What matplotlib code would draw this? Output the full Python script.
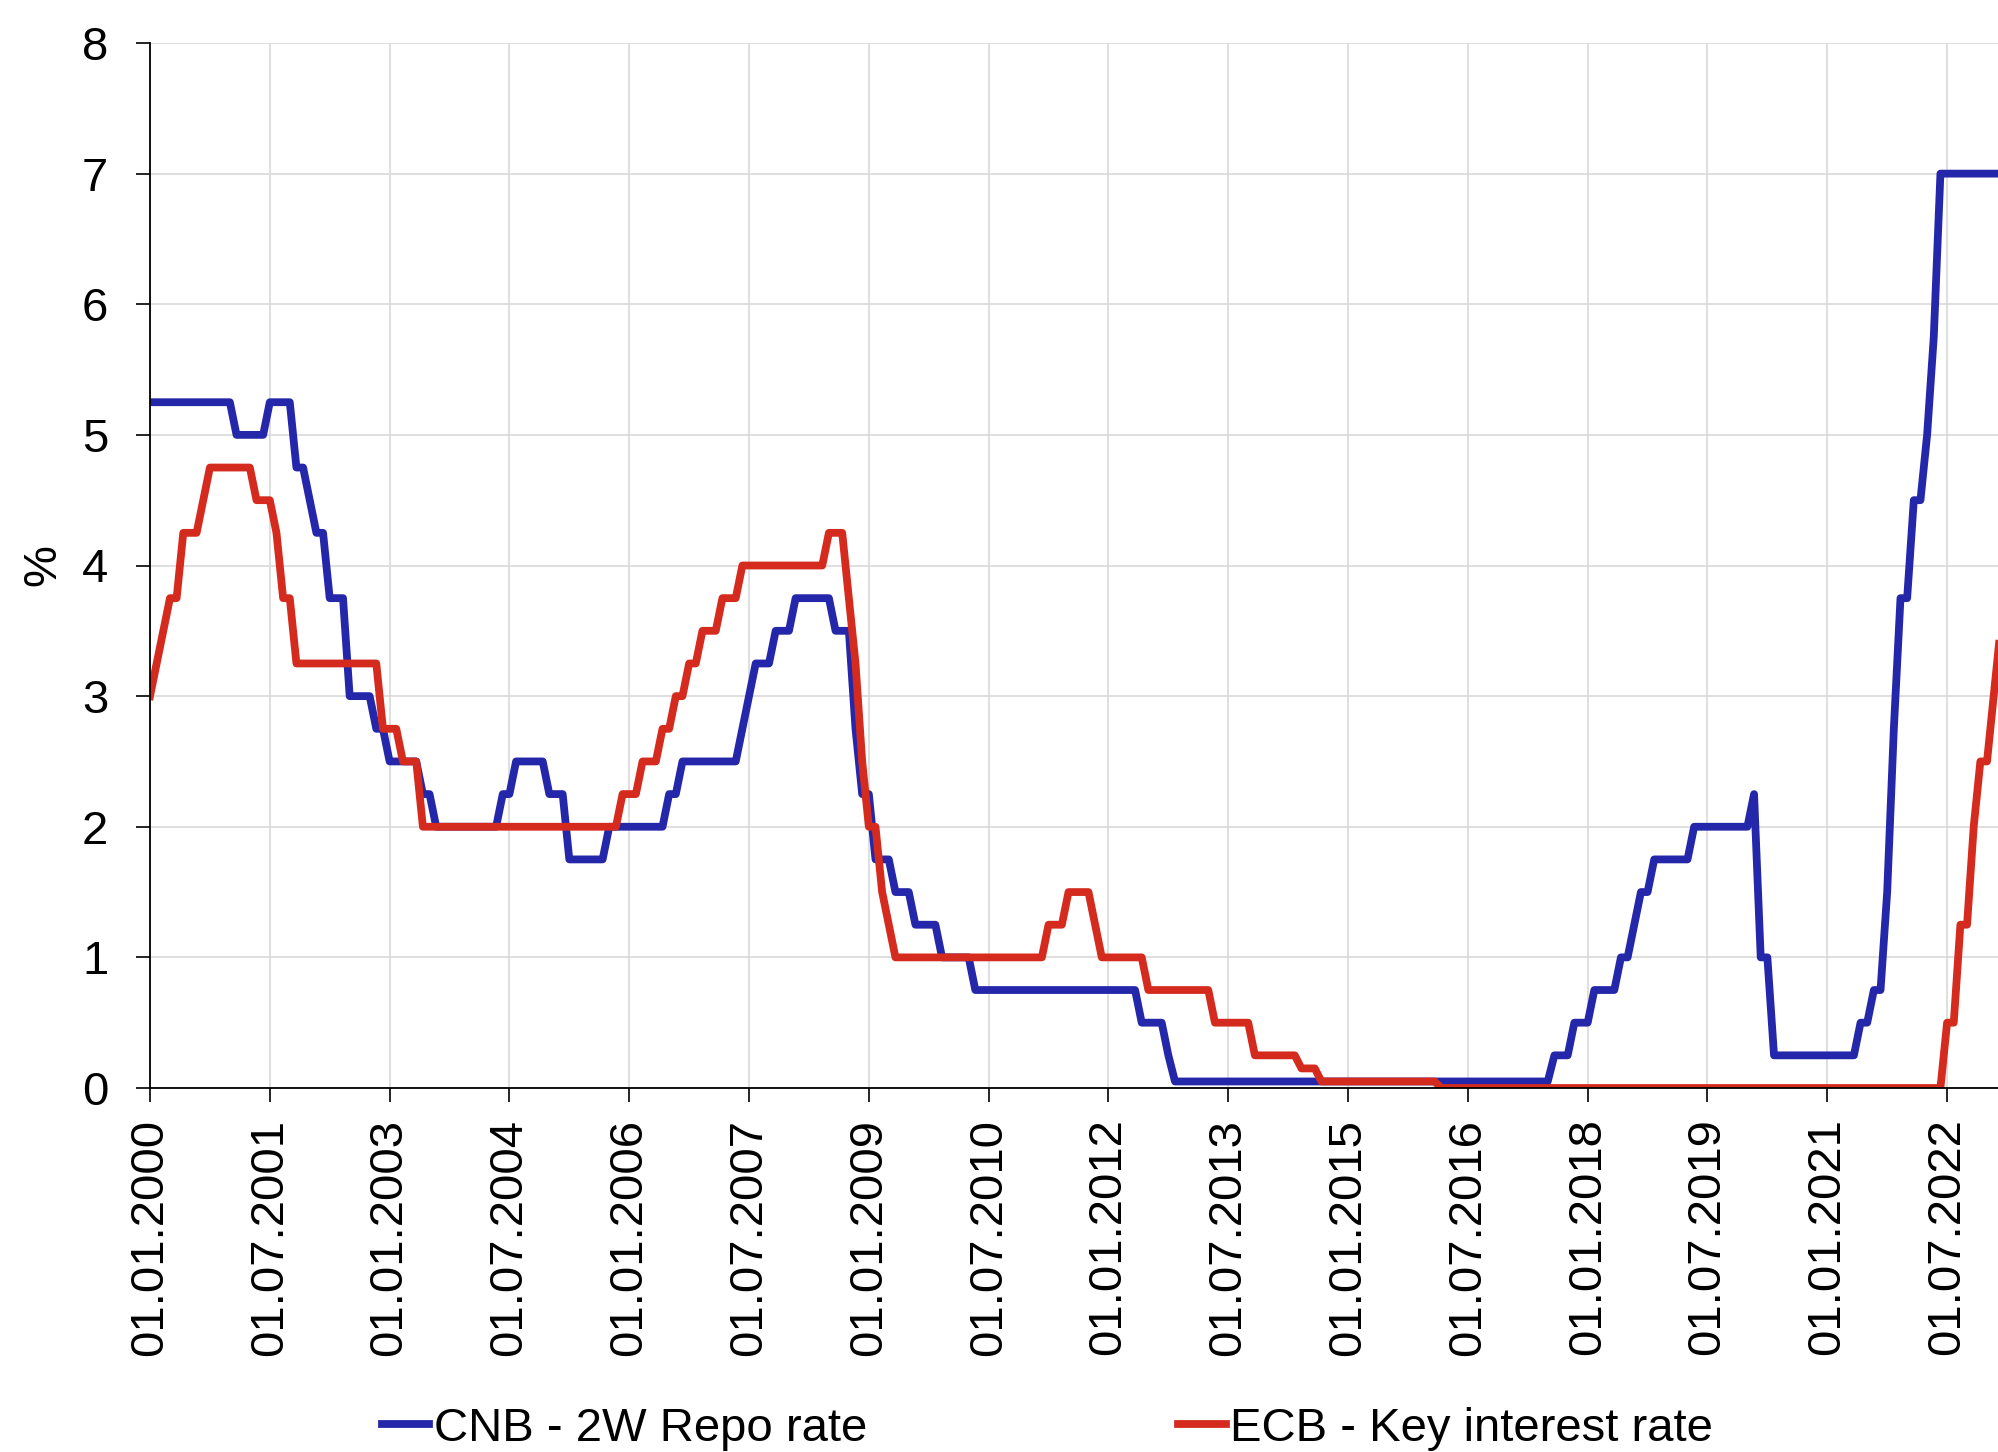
import matplotlib
matplotlib.use('Agg')
import matplotlib.pyplot as plt

# month-end rates, one row per year, starting 01.01.2000
cnb_rate = [
    5.25, 5.25, 5.25, 5.25, 5.25, 5.25, 5.25, 5.25, 5.25, 5.25, 5.25, 5.25,  # 2000
    5.25, 5.00, 5.00, 5.00, 5.00, 5.00, 5.25, 5.25, 5.25, 5.25, 4.75, 4.75,  # 2001
    4.50, 4.25, 4.25, 3.75, 3.75, 3.75, 3.00, 3.00, 3.00, 3.00, 2.75, 2.75,  # 2002
    2.50, 2.50, 2.50, 2.50, 2.50, 2.25, 2.25, 2.00, 2.00, 2.00, 2.00, 2.00,  # 2003
    2.00, 2.00, 2.00, 2.00, 2.00, 2.25, 2.25, 2.50, 2.50, 2.50, 2.50, 2.50,  # 2004
    2.25, 2.25, 2.25, 1.75, 1.75, 1.75, 1.75, 1.75, 1.75, 2.00, 2.00, 2.00,  # 2005
    2.00, 2.00, 2.00, 2.00, 2.00, 2.00, 2.25, 2.25, 2.50, 2.50, 2.50, 2.50,  # 2006
    2.50, 2.50, 2.50, 2.50, 2.50, 2.75, 3.00, 3.25, 3.25, 3.25, 3.50, 3.50,  # 2007
    3.50, 3.75, 3.75, 3.75, 3.75, 3.75, 3.75, 3.50, 3.50, 3.50, 2.75, 2.25,  # 2008
    2.25, 1.75, 1.75, 1.75, 1.50, 1.50, 1.50, 1.25, 1.25, 1.25, 1.25, 1.00,  # 2009
    1.00, 1.00, 1.00, 1.00, 0.75, 0.75, 0.75, 0.75, 0.75, 0.75, 0.75, 0.75,  # 2010
    0.75, 0.75, 0.75, 0.75, 0.75, 0.75, 0.75, 0.75, 0.75, 0.75, 0.75, 0.75,  # 2011
    0.75, 0.75, 0.75, 0.75, 0.75, 0.50, 0.50, 0.50, 0.50, 0.25, 0.05, 0.05,  # 2012
    0.05, 0.05, 0.05, 0.05, 0.05, 0.05, 0.05, 0.05, 0.05, 0.05, 0.05, 0.05,  # 2013
    0.05, 0.05, 0.05, 0.05, 0.05, 0.05, 0.05, 0.05, 0.05, 0.05, 0.05, 0.05,  # 2014
    0.05, 0.05, 0.05, 0.05, 0.05, 0.05, 0.05, 0.05, 0.05, 0.05, 0.05, 0.05,  # 2015
    0.05, 0.05, 0.05, 0.05, 0.05, 0.05, 0.05, 0.05, 0.05, 0.05, 0.05, 0.05,  # 2016
    0.05, 0.05, 0.05, 0.05, 0.05, 0.05, 0.05, 0.25, 0.25, 0.25, 0.50, 0.50,  # 2017
    0.50, 0.75, 0.75, 0.75, 0.75, 1.00, 1.00, 1.25, 1.50, 1.50, 1.75, 1.75,  # 2018
    1.75, 1.75, 1.75, 1.75, 2.00, 2.00, 2.00, 2.00, 2.00, 2.00, 2.00, 2.00,  # 2019
    2.00, 2.25, 1.00, 1.00, 0.25, 0.25, 0.25, 0.25, 0.25, 0.25, 0.25, 0.25,  # 2020
    0.25, 0.25, 0.25, 0.25, 0.25, 0.50, 0.50, 0.75, 0.75, 1.50, 2.75, 3.75,  # 2021
    3.75, 4.50, 4.50, 5.00, 5.75, 7.00, 7.00, 7.00, 7.00, 7.00, 7.00, 7.00,  # 2022
    7.00, 7.00, 7.00,                                                        # 2023
]

ecb_rate = [
    3.00, 3.25, 3.50, 3.75, 3.75, 4.25, 4.25, 4.25, 4.50, 4.75, 4.75, 4.75,  # 2000
    4.75, 4.75, 4.75, 4.75, 4.50, 4.50, 4.50, 4.25, 3.75, 3.75, 3.25, 3.25,  # 2001
    3.25, 3.25, 3.25, 3.25, 3.25, 3.25, 3.25, 3.25, 3.25, 3.25, 3.25, 2.75,  # 2002
    2.75, 2.75, 2.50, 2.50, 2.50, 2.00, 2.00, 2.00, 2.00, 2.00, 2.00, 2.00,  # 2003
    2.00, 2.00, 2.00, 2.00, 2.00, 2.00, 2.00, 2.00, 2.00, 2.00, 2.00, 2.00,  # 2004
    2.00, 2.00, 2.00, 2.00, 2.00, 2.00, 2.00, 2.00, 2.00, 2.00, 2.00, 2.25,  # 2005
    2.25, 2.25, 2.50, 2.50, 2.50, 2.75, 2.75, 3.00, 3.00, 3.25, 3.25, 3.50,  # 2006
    3.50, 3.50, 3.75, 3.75, 3.75, 4.00, 4.00, 4.00, 4.00, 4.00, 4.00, 4.00,  # 2007
    4.00, 4.00, 4.00, 4.00, 4.00, 4.00, 4.25, 4.25, 4.25, 3.75, 3.25, 2.50,  # 2008
    2.00, 2.00, 1.50, 1.25, 1.00, 1.00, 1.00, 1.00, 1.00, 1.00, 1.00, 1.00,  # 2009
    1.00, 1.00, 1.00, 1.00, 1.00, 1.00, 1.00, 1.00, 1.00, 1.00, 1.00, 1.00,  # 2010
    1.00, 1.00, 1.00, 1.25, 1.25, 1.25, 1.50, 1.50, 1.50, 1.50, 1.25, 1.00,  # 2011
    1.00, 1.00, 1.00, 1.00, 1.00, 1.00, 0.75, 0.75, 0.75, 0.75, 0.75, 0.75,  # 2012
    0.75, 0.75, 0.75, 0.75, 0.50, 0.50, 0.50, 0.50, 0.50, 0.50, 0.25, 0.25,  # 2013
    0.25, 0.25, 0.25, 0.25, 0.25, 0.15, 0.15, 0.15, 0.05, 0.05, 0.05, 0.05,  # 2014
    0.05, 0.05, 0.05, 0.05, 0.05, 0.05, 0.05, 0.05, 0.05, 0.05, 0.05, 0.05,  # 2015
    0.05, 0.05, 0.00, 0.00, 0.00, 0.00, 0.00, 0.00, 0.00, 0.00, 0.00, 0.00,  # 2016
    0.00, 0.00, 0.00, 0.00, 0.00, 0.00, 0.00, 0.00, 0.00, 0.00, 0.00, 0.00,  # 2017
    0.00, 0.00, 0.00, 0.00, 0.00, 0.00, 0.00, 0.00, 0.00, 0.00, 0.00, 0.00,  # 2018
    0.00, 0.00, 0.00, 0.00, 0.00, 0.00, 0.00, 0.00, 0.00, 0.00, 0.00, 0.00,  # 2019
    0.00, 0.00, 0.00, 0.00, 0.00, 0.00, 0.00, 0.00, 0.00, 0.00, 0.00, 0.00,  # 2020
    0.00, 0.00, 0.00, 0.00, 0.00, 0.00, 0.00, 0.00, 0.00, 0.00, 0.00, 0.00,  # 2021
    0.00, 0.00, 0.00, 0.00, 0.00, 0.00, 0.50, 0.50, 1.25, 1.25, 2.00, 2.50,  # 2022
    2.50, 3.00, 3.50,                                                        # 2023
]

tick_labels = ['01.01.2000', '01.07.2001', '01.01.2003', '01.07.2004',
               '01.01.2006', '01.07.2007', '01.01.2009', '01.07.2010',
               '01.01.2012', '01.07.2013', '01.01.2015', '01.07.2016',
               '01.01.2018', '01.07.2019', '01.01.2021', '01.07.2022']

plt.rcParams['font.family'] = ['Liberation Sans', 'DejaVu Sans']

fig = plt.figure(figsize=(19.99, 14.52), dpi=100)
ax = fig.add_axes([150 / 1999, 364 / 1452, 1849 / 1999, 1045 / 1452])

months = list(range(len(cnb_rate)))
ax.plot(months, cnb_rate, color='#2427A9', lw=5.6, label='CNB - 2W Repo rate',
        solid_joinstyle='round')
ax.plot(months, ecb_rate, color='#D52B1E', lw=5.6, label='ECB - Key interest rate',
        solid_joinstyle='round')

ax.set_xlim(0, 277.8)
ax.set_ylim(0, 8)
ax.set_yticks(range(0, 9))
ax.set_xticks(range(0, 18 * len(tick_labels), 18))
ax.set_xticklabels(tick_labels, rotation=90)

ax.grid(True, color='#d9d9d9', lw=1.2)
ax.set_axisbelow(True)
for s in ['top', 'right']:
    ax.spines[s].set_visible(False)
ax.spines['left'].set_linewidth(1.3)
ax.spines['bottom'].set_linewidth(1.3)
ax.tick_params(axis='y', length=10, width=1.2, labelsize=34, pad=20)
ax.tick_params(axis='x', length=10, width=1.2, labelsize=34, pad=12)
ax.set_ylabel('%', fontsize=34, labelpad=12)

fig.legend(loc='center', bbox_to_anchor=(0.524, 0.016), ncol=2, frameon=False,
           fontsize=34, handlelength=1.0, handletextpad=0.1, columnspacing=6.6,
           borderpad=0)

fig.savefig('out.png', dpi=100)
